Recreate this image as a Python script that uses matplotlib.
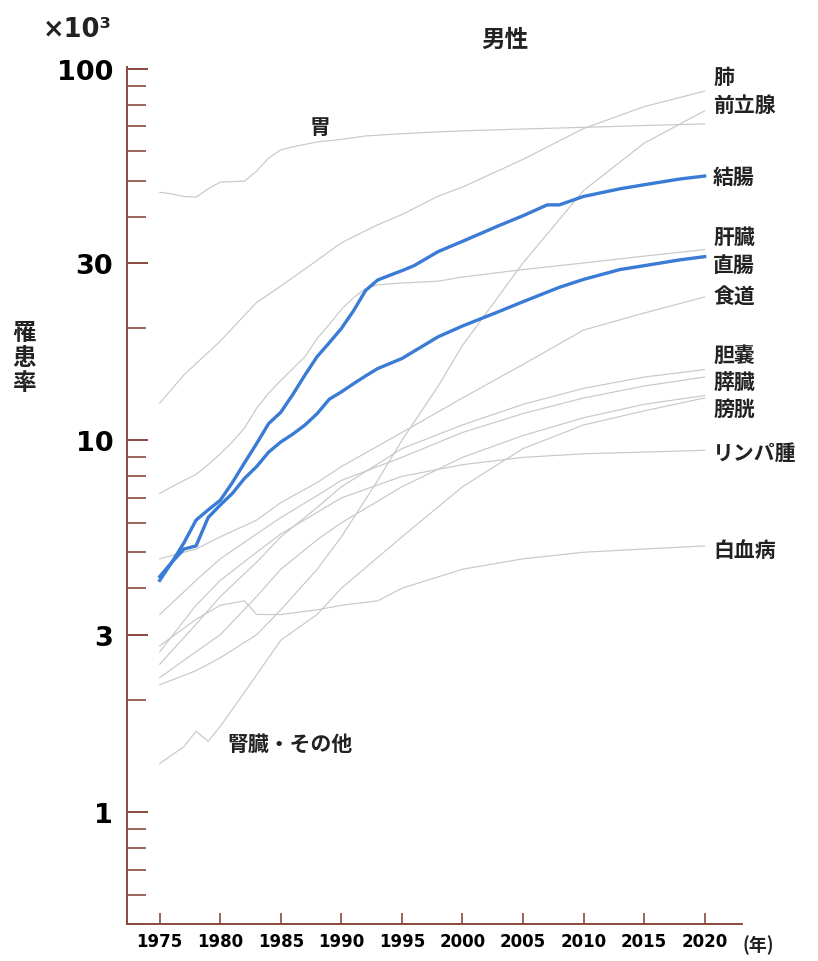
import matplotlib
matplotlib.use('Agg')
import matplotlib.pyplot as plt
from matplotlib.ticker import FixedLocator, LogLocator, NullFormatter

plt.rcParams['font.family'] = ['Noto Sans CJK JP', 'DejaVu Sans']

# 罹患率（×10^3）
colon_years = [1975, 1976, 1977, 1978, 1979, 1980, 1981, 1982, 1983, 1984, 1985, 1986, 1987, 1988, 1989,
               1990, 1991, 1992, 1993, 1994, 1995, 1996, 1998, 2000, 2003, 2005, 2007, 2008, 2010, 2013,
               2015, 2018, 2020]
colon = [4.3, 4.7, 5.3, 6.1, 6.5, 6.9, 7.7, 8.7, 9.8, 11.1, 11.9, 13.3, 15.0, 16.8, 18.3,
         20.0, 22.3, 25.3, 27.0, 27.8, 28.6, 29.5, 32.2, 34.3, 37.8, 40.2, 43.0, 43.0, 45.3, 47.5,
         48.7, 50.5, 51.4]

rectum_years = [1975, 1976, 1977, 1978, 1979, 1980, 1981, 1982, 1983, 1984, 1985, 1986, 1987, 1988, 1989,
                1990, 1991, 1992, 1993, 1995, 1998, 2000, 2003, 2005, 2008, 2010, 2013, 2015, 2018, 2020]
rectum = [4.2, 4.7, 5.1, 5.2, 6.2, 6.7, 7.2, 7.9, 8.5, 9.3, 9.9, 10.4, 11.0, 11.8, 12.9,
          13.5, 14.2, 14.9, 15.6, 16.6, 19.0, 20.3, 22.2, 23.6, 25.8, 27.1, 28.8, 29.5, 30.6, 31.2]

stomach_years = [1975, 1976, 1977, 1978, 1979, 1980, 1982, 1983, 1984, 1985, 1986, 1988, 1990, 1992, 1995,
                 1998, 2000, 2005, 2010, 2015, 2020]
stomach = [46.5, 46.0, 45.3, 45.1, 47.5, 49.5, 49.8, 53.0, 57.5, 60.5, 61.6, 63.5, 64.5, 65.9, 66.8,
           67.6, 68.0, 68.8, 69.5, 70.3, 71.0]

lung_years = [1975, 1977, 1980, 1983, 1985, 1988, 1990, 1993, 1995, 1998, 2000, 2005, 2010, 2015, 2020]
lung = [12.6, 15.0, 18.5, 23.5, 26.0, 30.5, 34.0, 38.0, 40.5, 45.4, 48.0, 57.0, 69.0, 79.0, 87.0]

prostate_years = [1975, 1978, 1980, 1983, 1985, 1988, 1990, 1993, 1995, 1998, 2000, 2005, 2010, 2015, 2020]
prostate = [2.2, 2.4, 2.6, 3.0, 3.5, 4.5, 5.5, 7.8, 10.0, 14.0, 18.0, 30.0, 47.0, 63.0, 77.0]

liver_years = [1975, 1976, 1977, 1978, 1979, 1980, 1981, 1982, 1983, 1984, 1985, 1986, 1987, 1988, 1989,
               1990, 1991, 1992, 1993, 1995, 1998, 2000, 2005, 2010, 2015, 2020]
liver = [7.2, 7.5, 7.8, 8.1, 8.6, 9.2, 9.9, 10.8, 12.2, 13.4, 14.5, 15.6, 16.8, 18.8, 20.5,
         22.5, 24.2, 25.6, 26.2, 26.5, 26.8, 27.5, 28.8, 30.0, 31.3, 32.6]

esophagus_years = [1975, 1978, 1980, 1983, 1985, 1988, 1990, 1995, 2000, 2005, 2010, 2015, 2020]
esophagus = [4.8, 5.1, 5.5, 6.1, 6.8, 7.7, 8.5, 10.5, 13.0, 16.0, 19.8, 22.0, 24.3]

gallbladder_years = [1975, 1978, 1980, 1983, 1985, 1988, 1990, 1995, 2000, 2005, 2010, 2015, 2020]
gallbladder = [2.5, 3.2, 3.8, 4.7, 5.5, 6.6, 7.5, 9.5, 11.0, 12.5, 13.8, 14.8, 15.5]

pancreas_years = [1975, 1978, 1980, 1983, 1985, 1988, 1990, 1995, 2000, 2005, 2010, 2015, 2020]
pancreas = [3.4, 4.2, 4.8, 5.6, 6.2, 7.1, 7.8, 9.0, 10.5, 11.8, 13.0, 14.0, 14.8]

bladder_years = [1975, 1978, 1980, 1983, 1985, 1988, 1990, 1995, 2000, 2005, 2010, 2015, 2020]
bladder = [2.3, 2.7, 3.0, 3.8, 4.5, 5.4, 6.0, 7.5, 9.0, 10.3, 11.5, 12.5, 13.2]

lymphoma_years = [1975, 1978, 1980, 1983, 1985, 1988, 1990, 1995, 2000, 2005, 2010, 2015, 2020]
lymphoma = [2.7, 3.6, 4.2, 5.0, 5.6, 6.4, 7.0, 8.0, 8.6, 9.0, 9.2, 9.3, 9.4]

leukemia_years = [1975, 1978, 1980, 1982, 1983, 1985, 1988, 1990, 1993, 1995, 2000, 2005, 2010, 2015, 2020]
leukemia = [2.8, 3.3, 3.6, 3.7, 3.4, 3.4, 3.5, 3.6, 3.7, 4.0, 4.5, 4.8, 5.0, 5.1, 5.2]

kidney_years = [1975, 1977, 1978, 1979, 1980, 1982, 1985, 1988, 1990, 1995, 2000, 2005, 2010, 2015, 2020]
kidney = [1.35, 1.5, 1.65, 1.55, 1.7, 2.1, 2.9, 3.4, 4.0, 5.5, 7.5, 9.5, 11.0, 12.0, 13.0]

gray_series = [
    (stomach_years, stomach), (lung_years, lung), (prostate_years, prostate),
    (liver_years, liver), (esophagus_years, esophagus), (gallbladder_years, gallbladder),
    (pancreas_years, pancreas), (bladder_years, bladder), (lymphoma_years, lymphoma),
    (leukemia_years, leukemia), (kidney_years, kidney),
]

# 右端のラベル（表示位置の値）
right_labels = ['肺', '前立腺', '結腸', '肝臓', '直腸', '食道', '胆嚢', '膵臓', '膀胱', 'リンパ腫', '白血病']
right_label_y = [95.1, 79.9, 51.4, 35.4, 29.7, 24.6, 17.0, 14.4, 12.2, 9.3, 5.1]

x_ticks = [1975, 1980, 1985, 1990, 1995, 2000, 2005, 2010, 2015, 2020]
y_ticks = [1, 3, 10, 30, 100]

axis_col = '#8a4a3c'
gray = '#c8c8c8'
blue = '#3a7bd5'

fig = plt.figure(figsize=(8.18, 9.62), dpi=100)
ax = fig.add_axes([0.1553, 0.0385, 0.752, 0.8908])

for yrs, vals in gray_series:
    ax.plot(yrs, vals, color=gray, lw=0.85, zorder=2)
ax.plot(colon_years, colon, color=blue, lw=2.4, zorder=3)
ax.plot(rectum_years, rectum, color=blue, lw=2.4, zorder=3)

ax.set_yscale('log')
ax.set_ylim(0.5, 101)
ax.set_xlim(1972.3, 2023.1)

ax.yaxis.set_major_locator(FixedLocator(y_ticks))
ax.set_yticklabels([str(v) for v in y_ticks])
ax.yaxis.set_minor_locator(LogLocator(base=10, subs=[2, 4, 5, 6, 7, 8, 9]))
ax.yaxis.set_minor_formatter(NullFormatter())
ax.set_xticks(x_ticks)
ax.set_xticklabels([str(v) for v in x_ticks])

for s in ['top', 'right']:
    ax.spines[s].set_visible(False)
for s in ['left', 'bottom']:
    ax.spines[s].set_color(axis_col)
    ax.spines[s].set_linewidth(1.4)

ax.tick_params(axis='y', which='major', direction='in', length=15, width=1.4, color=axis_col, pad=10)
ax.tick_params(axis='y', which='minor', direction='in', length=14, width=1.2, color=axis_col)
ax.tick_params(axis='x', which='major', direction='in', length=8, width=1.2, color=axis_col, pad=6)
for lab in ax.get_yticklabels():
    lab.set_fontfamily('DejaVu Sans')
    lab.set_fontweight('bold')
    lab.set_fontsize(19.5)
for lab in ax.get_xticklabels():
    lab.set_fontfamily('DejaVu Sans')
    lab.set_fontweight('bold')
    lab.set_fontsize(12)

for name, yv in zip(right_labels, right_label_y):
    ax.text(2020.7, yv, name, fontsize=15, fontweight='bold', va='center', ha='left', color='#222222')

ax.text(1988.2, 69.7, '胃', fontsize=15, fontweight='bold', va='center', ha='center', color='#222222')
ax.text(1980.6, 1.53, '腎臓・その他', fontsize=15, fontweight='bold', va='center', ha='left', color='#222222')

fig.text(505 / 818, 1 - 40 / 962, '男性', fontsize=17, fontweight='bold', ha='center', va='center', color='#222222')
fig.text(77 / 818, 1 - 30 / 962, '×10³', fontsize=18.5, fontweight='bold', ha='center', va='center',
         family='DejaVu Sans', color='#222222')
fig.text(24 / 818, 1 - 358 / 962, '罹\n患\n率', fontsize=17, fontweight='bold', ha='center', va='center',
         linespacing=1.05, color='#222222')
fig.text(742 / 818, 1 - 945 / 962, '(年)', fontsize=13, fontweight='bold', ha='left', va='center', color='#222222')

fig.savefig('out.png', dpi=100, facecolor='white')
